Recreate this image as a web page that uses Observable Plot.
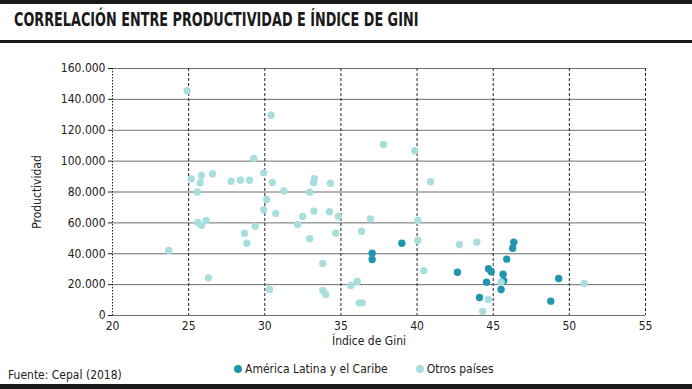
<!DOCTYPE html>
<html>
<head>
<meta charset="utf-8">
<script src="https://cdn.jsdelivr.net/npm/d3@7"></script>
<script src="https://cdn.jsdelivr.net/npm/@observablehq/plot@0.6"></script>
<style>
  html, body { margin: 0; padding: 0; background: #fff; }
  body { width: 692px; height: 389px; overflow: hidden; position: relative;
         font-family: "DejaVu Sans Condensed", sans-serif; color: #222; }
  #topbar { position: absolute; left: 0; top: 0; width: 692px; height: 4px; background: #1a1a1a; }
  #title { position: absolute; left: 14px; top: 8px; font-weight: bold; font-size: 19px; color: #1a1a1a;
           white-space: nowrap; transform: scaleX(0.75); transform-origin: 0 0; }
  #rule { position: absolute; left: 0; top: 40px; width: 692px; height: 3px; background: #1a1a1a; }
  #chart { position: absolute; left: 0; top: 45px; }
  #caption { position: absolute; left: 8px; top: 368px; font-size: 12px; color: #222; }
  #legend { position: absolute; left: 234px; top: 362px; font-size: 12px; color: #222; display: flex; gap: 28px; }
  #legend span.sw { display: inline-block; width: 8px; height: 8px; border-radius: 50%; margin-right: 3px; vertical-align: 0px; }
  #bottombar { position: absolute; left: 0; top: 384px; width: 692px; height: 5px; background: #1a1a1a; }
</style>
</head>
<body>
<div id="topbar"></div>
<div id="title">CORRELACIÓN ENTRE PRODUCTIVIDAD E ÍNDICE DE GINI</div>
<div id="rule"></div>
<div id="chart"></div>
<div id="caption">Fuente: Cepal (2018)</div>
<div id="legend"></div>
<div id="bottombar"></div>
<script>
// ---- Data ----
const seriesNames = ["América Latina y el Caribe", "Otros países"];
const seriesColors = ["#2095ae", "#a8dfde"];

const latamGini = [37.05, 37.05, 39.0, 42.65, 44.1, 44.56, 44.69, 44.87, 45.65, 45.69, 45.52, 45.89, 46.28, 46.35, 48.78, 49.3];
const latamProd = [40400, 36300, 46800, 28000, 11700, 21600, 30300, 28300, 26800, 22500, 16800, 36500, 43600, 47500, 9300, 24000];

const otrosGini = [24.9, 30.41, 29.28, 25.17, 25.84, 25.76, 26.57, 27.79, 28.4, 29.0, 29.93, 30.5, 25.58, 30.13, 29.93, 30.72,
  25.6, 25.84, 26.15, 29.37, 28.67, 28.82, 23.7, 26.3, 30.31, 37.79, 31.25, 33.26, 33.2, 34.31, 32.95, 32.49, 33.22, 34.25,
  34.82, 32.15, 36.94, 34.66, 36.35, 32.95, 33.81, 36.07, 35.65, 33.81, 34.0, 36.2, 36.4, 39.85, 40.88, 40.05, 40.05, 40.44,
  42.78, 43.92, 45.52, 44.67, 44.31, 50.97];
const otrosProd = [145600, 129700, 101700, 88500, 90700, 86000, 91800, 87000, 87600, 87600, 92400, 86200, 80000, 75100, 68500, 66100,
  60200, 58500, 61500, 57800, 53300, 46800, 42100, 24400, 16800, 110800, 80600, 88600, 86200, 85700, 79900, 64100, 67600, 67200,
  64100, 58900, 62600, 53300, 54600, 49700, 33700, 22000, 19400, 16200, 13600, 8200, 8200, 106700, 86600, 61500, 48600, 29100,
  46000, 47500, 21600, 10400, 2600, 20700];

const xTicks = [20, 25, 30, 35, 40, 45, 50, 55];
const yTicks = [0, 20000, 40000, 60000, 80000, 100000, 120000, 140000, 160000];
const xLabel = "Índice de Gini";
const yLabel = "Productividad";

// ---- Build tables ----
const latam = latamGini.map((g, i) => ({gini: g, prod: latamProd[i]}));
const otros = otrosGini.map((g, i) => ({gini: g, prod: otrosProd[i]}));

const fmt = d => d3.format(",")(d).replace(/,/g, ".");
const fontFamily = '"DejaVu Sans Condensed", sans-serif';

const chart = Plot.plot({
  width: 692,
  height: 320,
  marginLeft: 112,
  marginRight: 47,
  marginTop: 23,
  marginBottom: 50,
  style: {fontFamily, fontSize: "12px", color: "#222", background: "transparent"},
  x: {domain: [20, 55]},
  y: {domain: [0, 160000]},
  marks: [
    Plot.ruleY(yTicks, {stroke: "#6e6e6e", strokeWidth: 1}),
    Plot.ruleX(xTicks.slice(1), {stroke: "#222", strokeWidth: 1, strokeDasharray: "3,2"}),
    Plot.ruleX(xTicks.slice(0, 1), {stroke: "#222", strokeWidth: 1, strokeDasharray: "1.5,1.5"}),
    Plot.dot(latam, {x: "gini", y: "prod", r: 3.7, fill: seriesColors[0], stroke: "none"}),
    Plot.dot(otros, {x: "gini", y: "prod", r: 3.7, fill: seriesColors[1], stroke: "none"}),
    Plot.axisY({ticks: yTicks, tickSize: 4, tickPadding: 3, tickFormat: fmt, stroke: "#222",
      label: yLabel, labelAnchor: "center", labelArrow: "none", labelOffset: 80}),
    Plot.axisX({ticks: xTicks, tickSize: 0, tickPadding: 6, tickFormat: d => String(d), label: null}),
    Plot.text([xLabel], {frameAnchor: "bottom", dy: 29, dx: -10, fontSize: 12, fill: "#222"})
  ]
});
document.getElementById("chart").appendChild(chart);

// ---- Legend ----
const legend = document.getElementById("legend");
seriesNames.forEach((name, i) => {
  const item = document.createElement("div");
  item.innerHTML = `<span class="sw" style="background:${seriesColors[i]}"></span>${name}`;
  legend.appendChild(item);
});
</script>
</body>
</html>
